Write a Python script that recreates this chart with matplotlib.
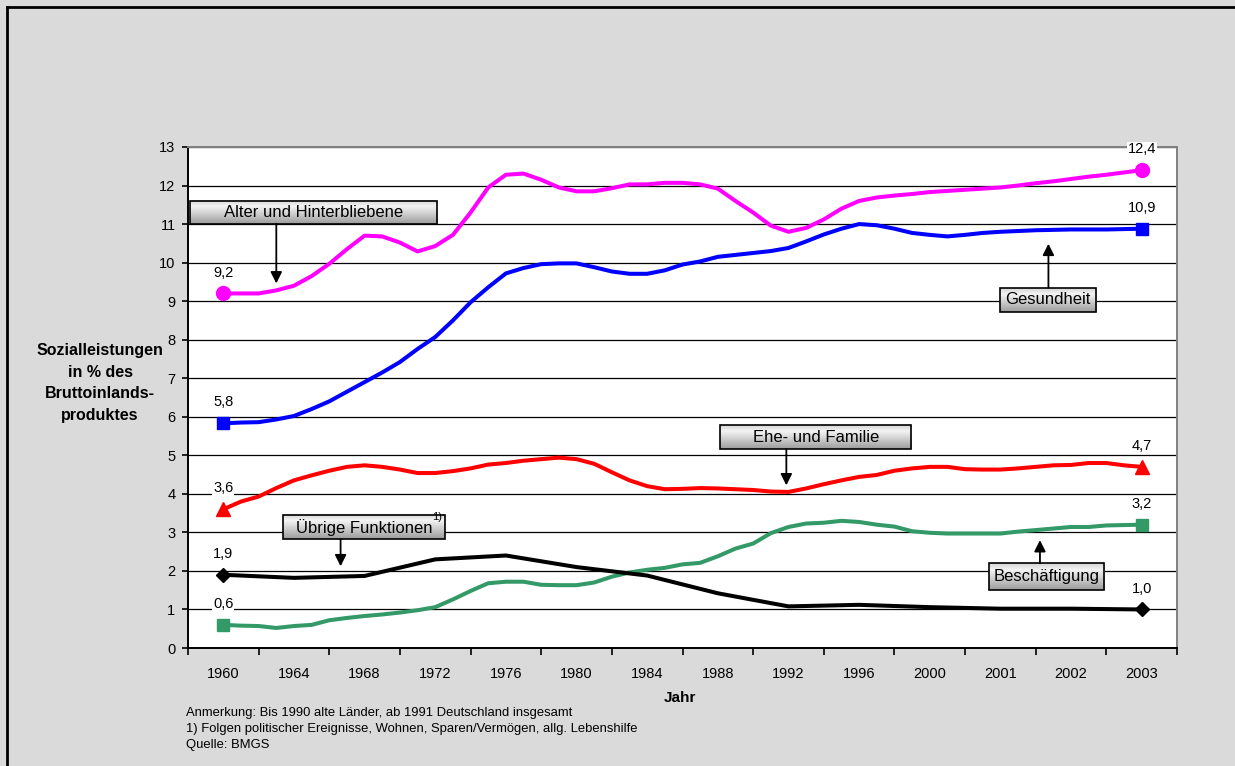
import numpy as np
import matplotlib.pyplot as plt
from matplotlib.patches import Rectangle
from matplotlib.lines import Line2D
from matplotlib.colors import LinearSegmentedColormap

plt.rcParams['font.family'] = ['Liberation Sans', 'DejaVu Sans']

# Kategorien der x-Achse
jahre = ['1960', '1964', '1968', '1972', '1976', '1980', '1984', '1988',
         '1992', '1996', '2000', '2001', '2002', '2003']

# 1960-2000 jaehrlich, danach 2000-2003 in Vierteln
alter = [9.2, 9.2, 9.2, 9.28, 9.4, 9.65, 9.97, 10.35, 10.7, 10.68,
         10.52, 10.29, 10.43, 10.72, 11.3, 11.95, 12.28, 12.31, 12.15, 11.95,
         11.85, 11.85, 11.93, 12.03, 12.03, 12.07, 12.07, 12.03, 11.92, 11.6,
         11.3, 10.96, 10.8, 10.9, 11.12, 11.4, 11.6, 11.69, 11.74, 11.78,
         11.83,
         11.86, 11.89, 11.92, 11.95, 12.0, 12.06, 12.11, 12.17, 12.23, 12.28, 12.34, 12.4]

gesundheit = [5.83, 5.85, 5.86, 5.93, 6.02, 6.2, 6.4, 6.65, 6.9, 7.15,
              7.42, 7.76, 8.07, 8.5, 8.97, 9.36, 9.72, 9.86, 9.96, 9.98,
              9.98, 9.88, 9.77, 9.71, 9.71, 9.8, 9.95, 10.03, 10.15, 10.2,
              10.25, 10.3, 10.38, 10.55, 10.73, 10.88, 11.0, 10.97, 10.88, 10.77,
              10.72,
              10.68, 10.72, 10.77, 10.8, 10.82, 10.84, 10.85, 10.86, 10.86, 10.86, 10.87, 10.88]

ehe = [3.6, 3.8, 3.93, 4.15, 4.35, 4.48, 4.6, 4.7, 4.74, 4.7,
       4.63, 4.54, 4.54, 4.59, 4.66, 4.76, 4.8, 4.86, 4.9, 4.94,
       4.9, 4.78, 4.56, 4.35, 4.2, 4.12, 4.13, 4.15, 4.14, 4.12,
       4.1, 4.06, 4.05, 4.14, 4.25, 4.35, 4.44, 4.49, 4.6, 4.66,
       4.7,
       4.7, 4.64, 4.63, 4.63, 4.66, 4.7, 4.74, 4.75, 4.8, 4.8, 4.74, 4.7]

beschaeftigung = [0.6, 0.58, 0.57, 0.52, 0.57, 0.6, 0.72, 0.78, 0.83, 0.87,
                  0.92, 0.98, 1.06, 1.26, 1.48, 1.68, 1.72, 1.72, 1.64, 1.63,
                  1.63, 1.7, 1.85, 1.96, 2.03, 2.08, 2.17, 2.21, 2.38, 2.58,
                  2.71, 2.98, 3.14, 3.23, 3.25, 3.3, 3.27, 3.2, 3.15, 3.03,
                  2.99,
                  2.97, 2.97, 2.97, 2.97, 3.02, 3.06, 3.1, 3.14, 3.14, 3.18, 3.19, 3.2]

# nur an den Kategorien
uebrige = [1.9, 1.82, 1.87, 2.3, 2.4, 2.1, 1.88, 1.42, 1.08, 1.12, 1.06, 1.02, 1.02, 1.0]

x_fein = np.arange(len(alter)) / 4
x_kat = np.arange(len(jahre))

fig = plt.figure(figsize=(12.35, 7.66), dpi=100, facecolor='#dadada')
ax = fig.add_axes([188/1235, 1-648/766, (1177-188)/1235, (648-147)/766])
ax.set_facecolor('white')

lw = 2.9
ax.plot(x_fein, alter, color='#ff00ff', lw=lw, marker='o', ms=10, markevery=[0, -1], zorder=4)
ax.plot(x_fein, gesundheit, color='#0000ff', lw=lw, marker='s', ms=9, markevery=[0, -1], zorder=4)
ax.plot(x_fein, ehe, color='#ff0000', lw=lw, marker='^', ms=10, markevery=[0, -1], zorder=4)
ax.plot(x_fein, beschaeftigung, color='#339966', lw=lw, marker='s', ms=9, markevery=[0, -1], zorder=4)
ax.plot(x_kat, uebrige, color='black', lw=lw, marker='D', ms=7, markevery=[0, -1], zorder=4)

def fmt(v):
    return f"{v:.1f}".replace('.', ',')

for xs, ys in [(x_fein, alter), (x_fein, gesundheit), (x_fein, ehe),
               (x_fein, beschaeftigung), (x_kat, uebrige)]:
    for i in (0, -1):
        ax.annotate(fmt(ys[i]), (xs[i], ys[i]), xytext=(0, 15), textcoords='offset points',
                    ha='center', va='center', fontsize=10.5, zorder=9, annotation_clip=False,
                    bbox=dict(fc='white', ec='none', pad=0.5))

ax.set_yticks(range(0, 14))
ax.yaxis.grid(True, color='black', lw=0.9)
ax.set_axisbelow(True)
ax.set_xticks(np.arange(-0.5, 14, 1))
ax.set_xticklabels([])
ax.set_xticks(x_kat, minor=True)
ax.set_xticklabels(jahre, minor=True)
ax.tick_params(axis='x', which='major', length=5, width=1.2, direction='out')
ax.tick_params(axis='x', which='minor', length=0, pad=14, labelsize=10.5)
ax.tick_params(axis='y', length=4, width=1.2, pad=5, labelsize=10.5)
for s in ('left', 'bottom'):
    ax.spines[s].set_color('black')
    ax.spines[s].set_linewidth(1.4)
for s in ('top', 'right'):
    ax.spines[s].set_color('#808080')
    ax.spines[s].set_linewidth(1.4)

cmap = LinearSegmentedColormap.from_list('box', [(0, '#d4d4d4'), (0.25, '#f4f4f4'), (1, '#9c9c9c')])
grad = np.linspace(0, 1, 64).reshape(-1, 1)

def callout(text, x0, x1, y0, y1, ax_x, tip_y, fs=12):
    ax.imshow(grad, extent=(x0, x1, y0, y1), cmap=cmap, vmin=0, vmax=1,
              aspect='auto', origin='upper', zorder=6)
    ax.add_patch(Rectangle((x0, y0), x1-x0, y1-y0, fill=False, ec='black', lw=1.2, zorder=7))
    ax.text((x0+x1)/2, (y0+y1)/2, text, ha='center', va='center', fontsize=fs, zorder=8)
    base = y0 if tip_y < y0 else y1
    ax.annotate('', xy=(ax_x, tip_y), xytext=(ax_x, base),
                arrowprops=dict(arrowstyle='-|>', color='black', lw=1.3, mutation_scale=17,
                                shrinkA=0, shrinkB=0), zorder=8)

callout('Alter und Hinterbliebene', -0.47, 3.03, 11.01, 11.61, 0.75, 9.46)
callout('Gesundheit', 10.99, 12.36, 8.73, 9.35, 11.68, 10.49)
callout('Ehe- und Familie', 7.03, 9.74, 5.16, 5.78, 7.97, 4.22)
callout('Übrige Funktionen', 0.85, 3.14, 2.82, 3.45, 1.66, 2.12)
ax.text(3.1, 3.4, '1)', ha='right', va='center', fontsize=8, zorder=9)
callout('Beschäftigung', 10.84, 12.47, 1.5, 2.2, 11.56, 2.8)

ax.set_xlim(-0.5, 13.5)
ax.set_ylim(0, 13)

fig.text(100/1235, 1-383/766, 'Sozialleistungen\nin % des\nBruttoinlands-\nproduktes',
         ha='center', va='center', fontsize=11.5, fontweight='bold', linespacing=1.55)
fig.text(680/1235, 1-698/766, 'Jahr', ha='center', va='center', fontsize=11, fontweight='bold')

notes = ['Anmerkung: Bis 1990 alte Länder, ab 1991 Deutschland insgesamt',
         '1) Folgen politischer Ereignisse, Wohnen, Sparen/Vermögen, allg. Lebenshilfe',
         'Quelle: BMGS']
for k, t in enumerate(notes):
    fig.text(186/1235, 1-(713+16*k)/766, t, ha='left', va='center', fontsize=9.4)

fig.add_artist(Line2D([7/1235, 7/1235], [0, 1-7/766], color='black', lw=2))
fig.add_artist(Line2D([7/1235, 1], [1-7/766, 1-7/766], color='black', lw=2))

fig.savefig('out.png', dpi=100, facecolor=fig.get_facecolor())
